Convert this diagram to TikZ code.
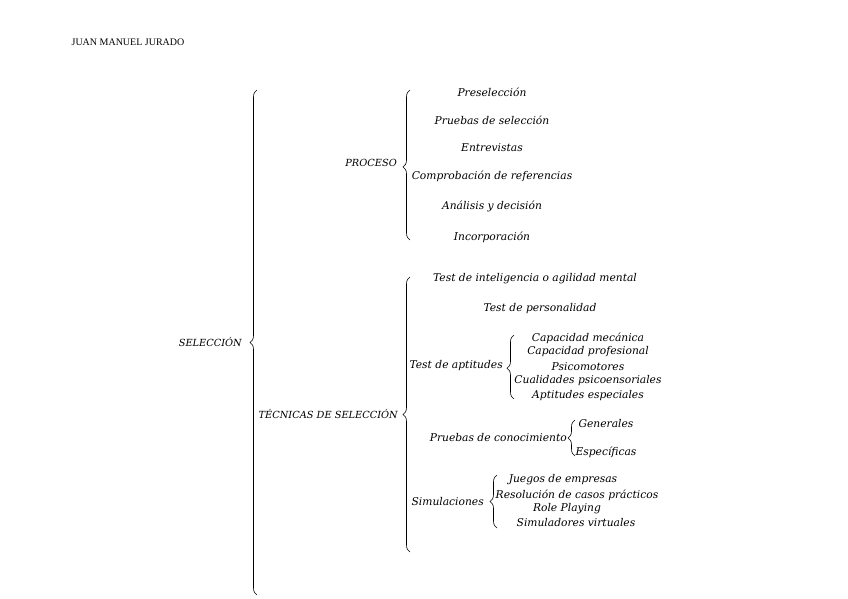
\documentclass[tikz,border=0pt]{standalone}
\usepackage{fontspec}
\setmainfont{DejaVu Serif}
\newfontfamily\hdrfont{Liberation Serif}
\usetikzlibrary{decorations.pathreplacing}
\begin{document}
\begin{tikzpicture}[x=1pt,y=-1pt,
  lbl/.style={font=\fontsize{10.7}{12}\selectfont\itshape, inner sep=0pt, anchor=center},
  lbr/.style={lbl, anchor=east},
  caplbl/.style={lbr, font=\fontsize{9.8}{12}\selectfont\itshape},
  brc/.style={decorate, decoration={brace, amplitude=7pt, aspect=0.5}, line width=0.6pt}]
\fill[white] (0,0) rectangle (848,599);
\useasboundingbox (0,0) rectangle (848,599);
% header
\node[font=\hdrfont\fontsize{10}{11}\selectfont, inner sep=0pt] (hdr) at (128,42) {JUAN MANUEL JURADO};
% level 0
\node[caplbl] (sel) at (242,342) {SELECCIÓN};
\coordinate (b0t) at (257,90);
\coordinate (b0b) at (257,595);
\draw[brc] (b0b) -- (b0t);
% PROCESO
\node[caplbl] (proc) at (397,163) {PROCESO};
\coordinate (b1t) at (410,90);
\coordinate (b1b) at (410,240);
\draw[brc, decoration={aspect=0.487}] (b1b) -- (b1t);
\node[lbl] (p1) at (492,92) {Preselección};
\node[lbl] (p2) at (492,120) {Pruebas de selección};
\node[lbl] (p3) at (492,148) {Entrevistas};
\node[lbl] (p4) at (492,176) {Comprobación de referencias};
\node[lbl] (p5) at (492,206) {Análisis y decisión};
\node[lbl] (p6) at (492,237) {Incorporación};
% TECNICAS
\node[caplbl] (tec) at (398,414) {TÉCNICAS DE SELECCIÓN};
\coordinate (b2t) at (410,277);
\coordinate (b2b) at (410,552);
\draw[brc] (b2b) -- (b2t);
\node[lbl] (t1) at (535,279) {Test de inteligencia o agilidad mental};
\node[lbl] (t2) at (540,309) {Test de personalidad};
% aptitudes
\node[lbr] (apt) at (503,366) {Test de aptitudes};
\coordinate (b3t) at (514,335);
\coordinate (b3b) at (514,399);
\draw[brc, decoration={aspect=0.48}] (b3b) -- (b3t);
\node[lbl] (a1) at (588,338) {Capacidad mecánica};
\node[lbl] (a2) at (588,352) {Capacidad profesional};
\node[lbl] (a3) at (588,367) {Psicomotores};
\node[lbl] (a4) at (588,381) {Cualidades psicoensoriales};
\node[lbl] (a5) at (588,396) {Aptitudes especiales};
% conocimiento
\node[lbr] (con) at (567,438) {Pruebas de conocimiento};
\coordinate (b4t) at (575,420);
\coordinate (b4b) at (575,456);
\draw[brc] (b4b) -- (b4t);
\node[lbl] (c1) at (606,424) {Generales};
\node[lbl] (c2) at (606,452) {Específicas};
% simulaciones
\node[lbr] (sim) at (484,502) {Simulaciones};
\coordinate (b5t) at (497,475);
\coordinate (b5b) at (497,528);
\draw[brc] (b5b) -- (b5t);
\node[lbl] (s1) at (563,480) {Juegos de empresas};
\node[lbl] (s2) at (577,495) {Resolución de casos prácticos};
\node[lbl] (s3) at (567,509) {Role Playing};
\node[lbl] (s4) at (576,523) {Simuladores virtuales};
\end{tikzpicture}
\end{document}
